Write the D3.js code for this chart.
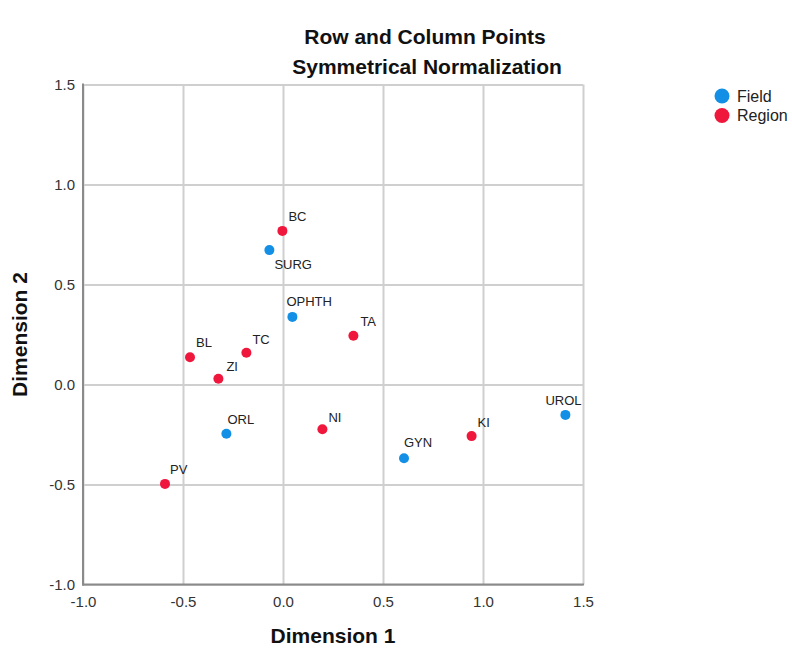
<!DOCTYPE html>
<html lang="en">
<head>
    <meta charset="UTF-8">
    <title>Row and Column Points</title>
    <script src="https://d3js.org/d3.v7.min.js"></script>
    <style>
        body {
            margin: 0;
            padding: 0;
            background-color: white;
            font-family: "Liberation Sans", Arial, sans-serif;
        }
    </style>
</head>
<body>
    <div id="chart"></div>
    <script>
        // Column points (Field)
        const fieldNames = ["SURG", "OPHTH", "ORL", "GYN", "UROL"];
        const fieldDim1 = [-0.068, 0.047, -0.283, 0.605, 1.412];
        const fieldDim2 = [0.672, 0.338, -0.246, -0.369, -0.152];

        // Row points (Region)
        const regionNames = ["BC", "TA", "BL", "TC", "ZI", "NI", "KI", "PV"];
        const regionDim1 = [-0.003, 0.352, -0.465, -0.183, -0.323, 0.197, 0.943, -0.590];
        const regionDim2 = [0.768, 0.244, 0.136, 0.159, 0.029, -0.224, -0.258, -0.497];

        const tickValues = [-1.0, -0.5, 0.0, 0.5, 1.0, 1.5];
        const legendLabels = ["Field", "Region"];

        // label placement next to each point (pixels)
        const labelOffset = {
            BC: [6, -10], SURG: [5, 19], OPHTH: [-6, -11], TA: [7, -10],
            BL: [6, -10], TC: [6, -9], ZI: [8, -8], UROL: [-20, -10],
            KI: [6, -9], GYN: [0, -11], ORL: [1, -10], NI: [6, -7], PV: [5, -10]
        };

        const width = 792;
        const height = 649;
        const colors = ["#1390e6", "#f0173c"];

        const svg = d3.select('#chart')
            .append('svg')
            .attr('width', width)
            .attr('height', height);

        const x = d3.scaleLinear().domain([-1, 1.5]).range([83, 583]);
        const y = d3.scaleLinear().domain([-1, 1.5]).range([584.5, 84.5]);
        const fmt = d => d.toFixed(1);

        // grid + tick labels
        const xAxis = svg.append('g')
            .attr('transform', `translate(0,${y(-1)})`)
            .call(d3.axisBottom(x).tickValues(tickValues).tickFormat(fmt)
                .tickSize(-(y(-1) - y(1.5))).tickPadding(12));
        const yAxis = svg.append('g')
            .attr('transform', `translate(${x(-1)},0)`)
            .call(d3.axisLeft(y).tickValues(tickValues).tickFormat(fmt)
                .tickSize(-(x(1.5) - x(-1))).tickPadding(8));

        [xAxis, yAxis].forEach(g => {
            g.select('.domain').remove();
            g.selectAll('.tick line').attr('stroke', '#cfcfcf').attr('stroke-width', 2);
            g.selectAll('.tick text')
                .attr('fill', '#333')
                .style('font-family', '"Liberation Sans", Arial, sans-serif')
                .style('font-size', '15px');
        });
        yAxis.selectAll('.tick text').attr('dy', '0.35em');

        // left and bottom frame lines
        svg.append('line')
            .attr('x1', x(-1)).attr('x2', x(-1))
            .attr('y1', y(1.5) - 1).attr('y2', y(-1) + 1)
            .attr('stroke', '#8a8a8a').attr('stroke-width', 2);
        svg.append('line')
            .attr('x1', x(-1) - 1).attr('x2', x(1.5) + 1)
            .attr('y1', y(-1)).attr('y2', y(-1))
            .attr('stroke', '#8a8a8a').attr('stroke-width', 2);

        // points
        const points = fieldNames.map((n, i) => ({ name: n, d1: fieldDim1[i], d2: fieldDim2[i], group: 0 }))
            .concat(regionNames.map((n, i) => ({ name: n, d1: regionDim1[i], d2: regionDim2[i], group: 1 })));

        svg.append('g').selectAll('circle')
            .data(points)
            .enter()
            .append('circle')
            .attr('cx', d => x(d.d1))
            .attr('cy', d => y(d.d2))
            .attr('r', 5)
            .attr('fill', d => colors[d.group]);

        svg.append('g').selectAll('text')
            .data(points)
            .enter()
            .append('text')
            .attr('x', d => x(d.d1) + labelOffset[d.name][0])
            .attr('y', d => y(d.d2) + labelOffset[d.name][1])
            .attr('fill', '#222')
            .style('font-size', '13px')
            .text(d => d.name);

        // titles
        svg.append('text')
            .attr('x', 425).attr('y', 44)
            .attr('text-anchor', 'middle')
            .style('font-size', '21px').style('font-weight', 'bold')
            .attr('fill', '#111')
            .text('Row and Column Points');
        svg.append('text')
            .attr('x', 427).attr('y', 74)
            .attr('text-anchor', 'middle')
            .style('font-size', '21px').style('font-weight', 'bold')
            .attr('fill', '#111')
            .text('Symmetrical Normalization');

        // axis titles
        svg.append('text')
            .attr('x', (x(-1) + x(1.5)) / 2).attr('y', 643)
            .attr('text-anchor', 'middle')
            .style('font-size', '21px').style('font-weight', 'bold')
            .attr('fill', '#111')
            .text('Dimension 1');
        svg.append('text')
            .attr('transform', `translate(27,${(y(-1) + y(1.5)) / 2}) rotate(-90)`)
            .attr('text-anchor', 'middle')
            .style('font-size', '21px').style('font-weight', 'bold')
            .attr('fill', '#111')
            .text('Dimension 2');

        // legend
        const legend = svg.append('g').attr('transform', 'translate(722,96)');
        legendLabels.forEach((lab, i) => {
            legend.append('circle')
                .attr('cx', 0).attr('cy', i * 19.5)
                .attr('r', 7.5)
                .attr('fill', colors[i]);
            legend.append('text')
                .attr('x', 15).attr('y', i * 19.5 + 5.5)
                .attr('fill', '#222')
                .style('font-size', '16px')
                .text(lab);
        });
    </script>
</body>
</html>
